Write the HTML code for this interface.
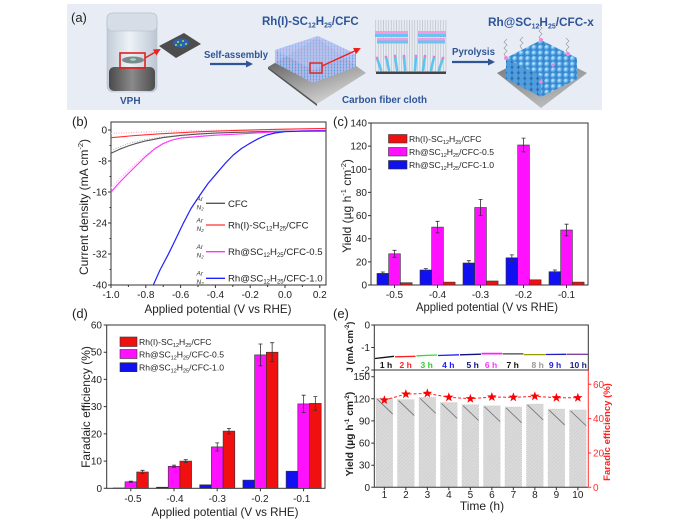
<!DOCTYPE html>
<html><head><meta charset="utf-8"><style>
html,body{margin:0;padding:0;background:#fff;}
svg{display:block;font-family:"Liberation Sans",Arial,sans-serif;}
</style></head><body>
<svg width="700" height="523" viewBox="0 0 700 523" xmlns="http://www.w3.org/2000/svg">
<defs>
<linearGradient id="vialG" x1="0" y1="0" x2="1" y2="0"><stop offset="0" stop-color="#c2ccd8"/><stop offset=".45" stop-color="#eef2f7"/><stop offset="1" stop-color="#bcc7d4"/></linearGradient>
<linearGradient id="darkG" x1="0" y1="0" x2="1" y2="0"><stop offset="0" stop-color="#4a4a4a"/><stop offset=".5" stop-color="#8a8a8a"/><stop offset="1" stop-color="#4e4e4e"/></linearGradient>
<linearGradient id="plateG" x1="0" y1="0" x2="0.5" y2="1"><stop offset="0" stop-color="#3a3a3a"/><stop offset="1" stop-color="#cfcfcf"/></linearGradient>
<linearGradient id="plate2G" x1="0" y1="0" x2="0.4" y2="1"><stop offset="0" stop-color="#6a6a6a"/><stop offset="1" stop-color="#b8b8b8"/></linearGradient>
<radialGradient id="sph" cx=".35" cy=".35" r=".7"><stop offset="0" stop-color="#d8f0ff"/><stop offset=".5" stop-color="#5ab3ee"/><stop offset="1" stop-color="#2a72c0"/></radialGradient>
<pattern id="blockPat" width="3" height="3" patternUnits="userSpaceOnUse"><rect width="3" height="3" fill="#b4bcee"/><line x1="1.5" y1="0" x2="1.5" y2="3" stroke="#8e9ae0" stroke-width=".6"/><circle cx="1.5" cy="1.5" r=".7" fill="#4aa6ea"/></pattern>
<pattern id="sphPat" width="6.4" height="5.6" patternUnits="userSpaceOnUse"><rect width="6.4" height="5.6" fill="#3f86cc"/><circle cx="3.2" cy="2.8" r="3" fill="url(#sph)"/></pattern>
<pattern id="sphPatD" width="6.4" height="5.6" patternUnits="userSpaceOnUse"><rect width="6.4" height="5.6" fill="#2f6fb0"/><circle cx="3.2" cy="2.8" r="3" fill="#4f9fe0"/></pattern>
<pattern id="fibPat" width="2.6" height="10" patternUnits="userSpaceOnUse"><line x1="1.3" y1="0" x2="1.3" y2="10" stroke="#9c9c9c" stroke-width=".5"/></pattern>
<pattern id="hatch" width="2.5" height="2.5" patternUnits="userSpaceOnUse" patternTransform="rotate(45)"><rect width="2.5" height="2.5" fill="#dadada"/><line x1="0" y1="0" x2="0" y2="2.5" stroke="#c3c3c3" stroke-width=".7"/></pattern>
<marker id="ab" markerWidth="7" markerHeight="7" refX="5" refY="3.5" orient="auto" markerUnits="userSpaceOnUse"><path d="M0,0 L7,3.5 L0,7 z" fill="#2f5597"/></marker>
<marker id="ar" markerWidth="7" markerHeight="7" refX="5" refY="3.5" orient="auto" markerUnits="userSpaceOnUse"><path d="M0,0 L7,3.5 L0,7 z" fill="#e82020"/></marker>
<path id="star" d="M0,-5 L1.176,-1.618 L4.755,-1.545 L1.902,0.618 L2.939,4.045 L0,2 L-2.939,4.045 L-1.902,0.618 L-4.755,-1.545 L-1.176,-1.618 Z" fill="#ff0000"/>
</defs>

<!-- ============ PANEL (a) ============ -->
<rect x="67" y="4" width="535" height="106" fill="#e8edf5"/>
<text x="71" y="22" font-size="13" fill="#222">(a)</text>
<rect x="107" y="13" width="50" height="79" rx="6" fill="url(#vialG)" stroke="#b5bfcb" stroke-width=".6"/>
<rect x="107" y="13" width="50" height="18" rx="5" fill="#d6dde7" stroke="#b0bac6" stroke-width=".6"/>
<rect x="109" y="67" width="46" height="24" rx="5" fill="url(#darkG)"/>
<ellipse cx="133" cy="60" rx="11" ry="3.5" fill="#7d8a8c"/>
<ellipse cx="133" cy="59.5" rx="3" ry="1.3" fill="#8fe0d0"/>
<rect x="120" y="53" width="25" height="15" fill="none" stroke="#e02020" stroke-width="1.6"/>
<line x1="145" y1="58" x2="159" y2="50" stroke="#e82020" stroke-width="1.4" marker-end="url(#ar)"/>
<polygon points="159,46 184,33 201,44 176,58" fill="#4d4d4d"/>
<ellipse cx="181" cy="43" rx="8" ry="4.6" fill="#2a62b0"/>
<circle cx="178" cy="42" r="1" fill="#9be04a"/><circle cx="183" cy="41" r="1" fill="#9be04a"/><circle cx="181" cy="45" r="1" fill="#9be04a"/><circle cx="186" cy="44" r="1" fill="#9be04a"/><circle cx="176" cy="45" r="1" fill="#9be04a"/>
<text x="204" y="58" font-size="10" font-weight="bold" fill="#2f5597" textLength="64" lengthAdjust="spacingAndGlyphs">Self-assembly</text>
<line x1="210" y1="64" x2="251" y2="64" stroke="#2f5597" stroke-width="2.2" marker-end="url(#ab)"/>
<text x="262" y="25" font-size="11.5" font-weight="bold" fill="#2f5597">Rh(I)-SC<tspan font-size="7" dy="2.5">12</tspan><tspan dy="-2.5">H</tspan><tspan font-size="7" dy="2.5">25</tspan><tspan dy="-2.5">/CFC</tspan></text>
<polygon points="268,67 317,38 366,73 317,104" fill="url(#plateG)"/>
<polygon points="268,67 317,104 317,106 268,69" fill="#555"/>
<polygon points="275,50 318,36 356,54 356,67 313,83 275,63" fill="url(#blockPat)" opacity=".9"/>
<polygon points="275,50 318,36 356,54 313,70" fill="#c5c9f2" opacity=".45"/>
<rect x="310" y="63" width="12" height="10" fill="none" stroke="#e02020" stroke-width="1.4"/>
<line x1="322" y1="66" x2="359" y2="49" stroke="#e82020" stroke-width="1.5" marker-end="url(#ar)"/>
<rect x="375" y="20" width="72" height="52" fill="url(#fibPat)" opacity=".85"/>
<rect x="375" y="31" width="33" height="3" fill="#f49ae0"/><rect x="375" y="34" width="33" height="3" fill="#66c6ee"/>
<rect x="418" y="31" width="28" height="3" fill="#f49ae0"/><rect x="418" y="34" width="28" height="3" fill="#66c6ee"/>
<rect x="377" y="38" width="31" height="2.5" fill="#f49ae0"/><rect x="377" y="40.5" width="31" height="3" fill="#66c6ee"/>
<rect x="418" y="38" width="27" height="2.5" fill="#f49ae0"/><rect x="418" y="40.5" width="27" height="3" fill="#66c6ee"/>
<g stroke="#5ec4ee" stroke-width="2.6" stroke-linecap="round">
<line x1="377" y1="58" x2="381" y2="70"/><line x1="386" y1="57" x2="389" y2="70"/><line x1="395" y1="56" x2="397" y2="70"/><line x1="404" y1="56" x2="405" y2="70"/><line x1="416" y1="56" x2="415" y2="70"/><line x1="425" y1="56" x2="423" y2="70"/><line x1="434" y1="57" x2="431" y2="70"/><line x1="443" y1="58" x2="439" y2="70"/>
</g>
<g fill="#f07ad0"><circle cx="377" cy="58" r="1.3"/><circle cx="386" cy="57" r="1.3"/><circle cx="395" cy="56" r="1.3"/><circle cx="404" cy="56" r="1.3"/><circle cx="416" cy="56" r="1.3"/><circle cx="425" cy="56" r="1.3"/><circle cx="434" cy="57" r="1.3"/><circle cx="443" cy="58" r="1.3"/></g>
<rect x="376" y="71.5" width="70" height="2.5" fill="#444"/>
<text x="342" y="103" font-size="10" font-weight="bold" fill="#2f5597" textLength="85" lengthAdjust="spacingAndGlyphs">Carbon fiber cloth</text>
<text x="452" y="55" font-size="10" font-weight="bold" fill="#2f5597" textLength="43" lengthAdjust="spacingAndGlyphs">Pyrolysis</text>
<line x1="452" y1="62" x2="493" y2="62" stroke="#2f5597" stroke-width="2.2" marker-end="url(#ab)"/>
<text x="488" y="26" font-size="11.8" font-weight="bold" fill="#2f5597">Rh@SC<tspan font-size="7" dy="2.5">12</tspan><tspan dy="-2.5">H</tspan><tspan font-size="7" dy="2.5">25</tspan><tspan dy="-2.5">/CFC-x</tspan></text>
<polygon points="497,73 541,50 587,73 541,108" fill="url(#plate2G)"/>
<polygon points="506,58 541,76 541,97 506,79" fill="url(#sphPatD)"/>
<polygon points="541,76 577,58 577,79 541,97" fill="url(#sphPat)"/>
<polygon points="541,40 506,58 541,76 577,58" fill="url(#sphPat)"/>
<g fill="none" stroke="#9a9a9a" stroke-width=".7">
<polyline points="506,57 504,54 507,51 504,48 507,45 504,42 507,39"/>
<polyline points="522,49 520,46 523,43 520,40 523,37"/>
<polyline points="541,40 539,37 542,34 539,31 542,28 539,25"/>
<polyline points="568,53 566,50 569,47 566,44 569,41 566,38"/>
</g>
<g fill="#f08ad8"><circle cx="541" cy="40" r="2"/><circle cx="506" cy="58" r="2"/><circle cx="568" cy="54" r="2"/><circle cx="541" cy="82" r="1.8"/><circle cx="553" cy="65" r="1.6"/></g>
<text x="120" y="104" font-size="10" font-weight="bold" fill="#2f5597">VPH</text>

<!-- ============ PANEL (b) ============ -->
<text x="72" y="126" font-size="13" fill="#222">(b)</text>
<rect x="111" y="122" width="215" height="163" fill="none" stroke="#333" stroke-width="1"/>
<g stroke="#333" stroke-width="1">
<path d="M108,130H111M108,161H111M108,192H111M108,223H111M108,254H111M108,285H111"/>
<path d="M109.5,145.5H111M109.5,176.5H111M109.5,207.5H111M109.5,238.5H111M109.5,269.5H111"/>
<path d="M111,285V288M145.8,285V288M180.6,285V288M215.4,285V288M250.2,285V288M285,285V288M319.8,285V288"/>
<path d="M128.4,285V287M163.2,285V287M198,285V287M232.8,285V287M267.6,285V287M302.4,285V287"/>
</g>
<g font-size="10" fill="#222" text-anchor="end">
<text x="107" y="133.5">0</text><text x="107" y="164.5">-8</text><text x="107" y="195.5">-16</text><text x="107" y="226.5">-24</text><text x="107" y="257.5">-32</text><text x="107" y="288.5">-40</text>
</g>
<g font-size="10" fill="#222" text-anchor="middle">
<text x="111" y="298">-1.0</text><text x="145.8" y="298">-0.8</text><text x="180.6" y="298">-0.6</text><text x="215.4" y="298">-0.4</text><text x="250.2" y="298">-0.2</text><text x="285" y="298">0.0</text><text x="319.8" y="298">0.2</text>
</g>
<text x="218" y="313" font-size="12" fill="#222" text-anchor="middle" textLength="147" lengthAdjust="spacingAndGlyphs">Applied potential (V vs RHE)</text>
<text transform="translate(88,207) rotate(-90)" font-size="12" fill="#222" text-anchor="middle">Current density (mA cm<tspan font-size="7.5" dy="-5">-2</tspan><tspan dy="5">)</tspan></text>
<g fill="none" stroke-linejoin="round">
<polyline stroke="#ffb0f0" stroke-width="1.2" stroke-dasharray="1,1.5" points="111,188 119.7,179 128.4,170.5 137.1,162.5 145.8,155 154.5,148.5 163.2,143 171.9,139.5 180.6,137.5 198,136 215.4,134.8"/>
<polyline stroke="#ffaad0" stroke-width="1.2" stroke-dasharray="1,1.5" points="111,133.5 140,132.2 170,131.2 200,130.5 250,129.8 300,129 326,128.6"/>
<polyline stroke="#aaaaaa" stroke-width="1" stroke-dasharray="1,1.5" points="111,150.5 128.4,143.5 145.8,139.5 163.2,136.8 198,133.6 250,131.7 326,130.5"/>
<polyline stroke="#555" stroke-width="1.1" points="111,153.3 119.7,149.2 128.4,145.9 137.1,143.2 145.8,140.9 163.2,137.6 180.6,135.4 198,134.1 215.4,133.1 250.2,131.9 285,131.2 326,130.8"/>
<polyline stroke="#ff3030" stroke-width="1.1" points="111,137.7 133,135.7 160,133.8 200,131.7 240,130.3 283,129.2 326,128.4"/>
<polyline stroke="#ff30ff" stroke-width="1.1" points="111,192 119.7,182.3 128.4,173.4 137.1,164.9 145.8,156.4 154.5,149 163.2,143.6 171.9,140.1 180.6,138.1 198,136.6 215.4,135.2 232.8,134.3 250.2,133.3 267.6,132.3 285,131.4 302.4,130.8 326,130.4"/>
<polyline stroke="#2020ff" stroke-width="1.2" points="153.3,285 160,270 168.3,254.3 176,238.5 183.3,223.3 191,208.5 200,195 208,183.5 216.7,173.3 225,163.6 233.3,155 241.5,148.5 250,143.3 258,138.8 266.7,135 275,133 285,131.7 300,131.2 326,131"/>
</g>
<g font-size="6.5" font-style="italic" fill="#333">
<text x="196.5" y="201">Ar</text><text x="196.5" y="209.5">N<tspan font-size="4.5" dy="1">2</tspan></text>
<text x="196.5" y="222.5">Ar</text><text x="196.5" y="231">N<tspan font-size="4.5" dy="1">2</tspan></text>
<text x="196.5" y="249">Ar</text><text x="196.5" y="257.5">N<tspan font-size="4.5" dy="1">2</tspan></text>
<text x="196.5" y="275.5">Ar</text><text x="196.5" y="284">N<tspan font-size="4.5" dy="1">2</tspan></text>
</g>
<g stroke-width="1.3">
<line x1="206" y1="203.3" x2="225" y2="203.3" stroke="#555"/>
<line x1="206" y1="225" x2="225" y2="225" stroke="#ff3030"/>
<line x1="206" y1="251.7" x2="225" y2="251.7" stroke="#ff30ff"/>
<line x1="206" y1="278.3" x2="225" y2="278.3" stroke="#2020ff"/>
</g>
<g font-size="9.6" fill="#222">
<text x="228" y="207">CFC</text>
<text x="228" y="228.5">Rh(I)-SC<tspan font-size="6" dy="2">12</tspan><tspan dy="-2">H</tspan><tspan font-size="6" dy="2">25</tspan><tspan dy="-2">/CFC</tspan></text>
<text x="228" y="255">Rh@SC<tspan font-size="6" dy="2">12</tspan><tspan dy="-2">H</tspan><tspan font-size="6" dy="2">25</tspan><tspan dy="-2">/CFC-0.5</tspan></text>
<text x="228" y="281.5">Rh@SC<tspan font-size="6" dy="2">12</tspan><tspan dy="-2">H</tspan><tspan font-size="6" dy="2">25</tspan><tspan dy="-2">/CFC-1.0</tspan></text>
</g>

<!-- ============ PANEL (c) ============ -->
<text x="333" y="126" font-size="13" fill="#222">(c)</text>
<rect x="371" y="123" width="217" height="162" fill="none" stroke="#333" stroke-width="1"/>
<g stroke="#333" stroke-width="1">
<path d="M368,285H371M368,261.9H371M368,238.7H371M368,215.6H371M368,192.4H371M368,169.3H371M368,146.1H371M368,123H371"/>
<path d="M394.5,285V288M437.5,285V288M480.5,285V288M523.5,285V288M566.5,285V288"/>
</g>
<g font-size="10" fill="#222" text-anchor="end">
<text x="367" y="288.5">0</text><text x="367" y="265.4">20</text><text x="367" y="242.2">40</text><text x="367" y="219.1">60</text><text x="367" y="195.9">80</text><text x="367" y="172.8">100</text><text x="367" y="149.6">120</text><text x="367" y="126.5">140</text>
</g>
<g font-size="10" fill="#222" text-anchor="middle">
<text x="394.5" y="298">-0.5</text><text x="437.5" y="298">-0.4</text><text x="480.5" y="298">-0.3</text><text x="523.5" y="298">-0.2</text><text x="566.5" y="298">-0.1</text>
</g>
<text x="487" y="311" font-size="12" fill="#222" text-anchor="middle" textLength="142" lengthAdjust="spacingAndGlyphs">Applied potential (V vs RHE)</text>
<text transform="translate(351,206) rotate(-90)" font-size="12" fill="#222" text-anchor="middle">Yield (µg h<tspan font-size="7.5" dy="-5">-1</tspan><tspan dy="5"> cm</tspan><tspan font-size="7.5" dy="-5">-2</tspan><tspan dy="5">)</tspan></text>
<g stroke="#333" stroke-width=".6">
<rect x="377" y="273.4" width="11.7" height="11.6" fill="#1010f0"/>
<rect x="388.7" y="253.8" width="11.7" height="31.2" fill="#ff10ff"/>
<rect x="400.4" y="282.7" width="11.7" height="2.3" fill="#f01010"/>
<rect x="420" y="270" width="11.7" height="15" fill="#1010f0"/>
<rect x="431.7" y="227.1" width="11.7" height="57.9" fill="#ff10ff"/>
<rect x="443.4" y="282.1" width="11.7" height="2.9" fill="#f01010"/>
<rect x="463" y="263" width="11.7" height="22" fill="#1010f0"/>
<rect x="474.7" y="207.5" width="11.7" height="77.5" fill="#ff10ff"/>
<rect x="486.4" y="281" width="11.7" height="4" fill="#f01010"/>
<rect x="506" y="257.8" width="11.7" height="27.2" fill="#1010f0"/>
<rect x="517.7" y="145" width="11.7" height="140" fill="#ff10ff"/>
<rect x="529.4" y="279.8" width="11.7" height="5.2" fill="#f01010"/>
<rect x="549" y="271.7" width="11.7" height="13.3" fill="#1010f0"/>
<rect x="560.7" y="230" width="11.7" height="55" fill="#ff10ff"/>
<rect x="572.4" y="282.1" width="11.7" height="2.9" fill="#f01010"/>
</g>
<g stroke="#333" stroke-width=".8" fill="none">
<path d="M382.85,274.8V272M380.85,274.8h4M380.85,272h4"/>
<path d="M425.85,271.4V268.6M423.85,271.4h4M423.85,268.6h4"/>
<path d="M468.85,265.3V260.7M466.85,265.3h4M466.85,260.7h4"/>
<path d="M511.85,260.7V254.9M509.85,260.7h4M509.85,254.9h4"/>
<path d="M554.85,273.4V270M552.85,273.4h4M552.85,270h4"/>
<path d="M394.55,257.3V250.3M392.55,257.3h4M392.55,250.3h4"/>
<path d="M437.55,232.9V221.3M435.55,232.9h4M435.55,221.3h4"/>
<path d="M480.55,215.6V199.4M478.55,215.6h4M478.55,199.4h4"/>
<path d="M523.55,151.9V138.1M521.55,151.9h4M521.55,138.1h4"/>
<path d="M566.55,235.8V224.2M564.55,235.8h4M564.55,224.2h4"/>
</g>
<g stroke="#333" stroke-width=".6">
<rect x="388.5" y="134.5" width="18.5" height="8.5" fill="#f01010"/>
<rect x="388.5" y="147.5" width="18.5" height="8.5" fill="#ff10ff"/>
<rect x="388.5" y="160.5" width="18.5" height="8.5" fill="#1010f0"/>
</g>
<g font-size="8.6" fill="#222">
<text x="409" y="142">Rh(I)-SC<tspan font-size="5.5" dy="2">12</tspan><tspan dy="-2">H</tspan><tspan font-size="5.5" dy="2">25</tspan><tspan dy="-2">/CFC</tspan></text>
<text x="409" y="155">Rh@SC<tspan font-size="5.5" dy="2">12</tspan><tspan dy="-2">H</tspan><tspan font-size="5.5" dy="2">25</tspan><tspan dy="-2">/CFC-0.5</tspan></text>
<text x="409" y="168">Rh@SC<tspan font-size="5.5" dy="2">12</tspan><tspan dy="-2">H</tspan><tspan font-size="5.5" dy="2">25</tspan><tspan dy="-2">/CFC-1.0</tspan></text>
</g>

<!-- ============ PANEL (d) ============ -->
<text x="72" y="318" font-size="13" fill="#222">(d)</text>
<rect x="106.7" y="325" width="218.3" height="163.3" fill="none" stroke="#333" stroke-width="1"/>
<g stroke="#333" stroke-width="1">
<path d="M103.7,488.3H106.7M103.7,461.1H106.7M103.7,433.9H106.7M103.7,406.6H106.7M103.7,379.4H106.7M103.7,352.2H106.7M103.7,325H106.7"/>
<path d="M130.8,488.3V491.3M174,488.3V491.3M217.2,488.3V491.3M260.4,488.3V491.3M303.6,488.3V491.3"/>
</g>
<g font-size="10" fill="#222" text-anchor="end">
<text x="102" y="491.8">0</text><text x="102" y="464.6">10</text><text x="102" y="437.4">20</text><text x="102" y="410.1">30</text><text x="102" y="382.9">40</text><text x="102" y="355.7">50</text><text x="102" y="328.5">60</text>
</g>
<g font-size="10" fill="#222" text-anchor="middle">
<text x="133" y="502">-0.5</text><text x="175" y="502">-0.4</text><text x="217.3" y="502">-0.3</text><text x="260" y="502">-0.2</text><text x="301.7" y="502">-0.1</text>
</g>
<text x="225" y="516" font-size="12" fill="#222" text-anchor="middle" textLength="147" lengthAdjust="spacingAndGlyphs">Applied potential (V vs RHE)</text>
<text transform="translate(90,407) rotate(-90)" font-size="12" fill="#222" text-anchor="middle">Faradaic efficiency (%)</text>
<g stroke="#333" stroke-width=".6">
<rect x="113.3" y="488" width="11.7" height=".3" fill="#1010f0"/>
<rect x="125" y="481.8" width="11.7" height="6.5" fill="#ff10ff"/>
<rect x="136.7" y="472" width="11.7" height="16.3" fill="#f01010"/>
<rect x="156.5" y="487.2" width="11.7" height="1.1" fill="#1010f0"/>
<rect x="168.2" y="466.3" width="11.7" height="22" fill="#ff10ff"/>
<rect x="179.9" y="461.1" width="11.7" height="27.2" fill="#f01010"/>
<rect x="199.7" y="484.8" width="11.7" height="3.5" fill="#1010f0"/>
<rect x="211.4" y="446.9" width="11.7" height="41.4" fill="#ff10ff"/>
<rect x="223.1" y="431.1" width="11.7" height="57.2" fill="#f01010"/>
<rect x="242.9" y="480.1" width="11.7" height="8.2" fill="#1010f0"/>
<rect x="254.6" y="354.9" width="11.7" height="133.4" fill="#ff10ff"/>
<rect x="266.3" y="352.2" width="11.7" height="136.1" fill="#f01010"/>
<rect x="286.1" y="471.2" width="11.7" height="17.1" fill="#1010f0"/>
<rect x="297.8" y="403.9" width="11.7" height="84.4" fill="#ff10ff"/>
<rect x="309.5" y="403.4" width="11.7" height="84.9" fill="#f01010"/>
</g>
<g stroke="#333" stroke-width=".8" fill="none">
<path d="M130.85,482.3V481.2M128.85,482.3h4M128.85,481.2h4"/>
<path d="M174.05,467.3V465.2M172.05,467.3h4M172.05,465.2h4"/>
<path d="M217.25,451V442.9M215.25,451h4M215.25,442.9h4"/>
<path d="M260.45,365.8V344M258.45,365.8h4M258.45,344h4"/>
<path d="M303.65,412.6V395.2M301.65,412.6h4M301.65,395.2h4"/>
<path d="M142.55,473.6V470.3M140.55,473.6h4M140.55,470.3h4"/>
<path d="M185.75,462.5V459.7M183.75,462.5h4M183.75,459.7h4"/>
<path d="M228.95,433.8V428.4M226.95,433.8h4M226.95,428.4h4"/>
<path d="M272.15,361.7V342.7M270.15,361.7h4M270.15,342.7h4"/>
<path d="M315.35,410.2V396.6M313.35,410.2h4M313.35,396.6h4"/>
</g>
<g stroke="#333" stroke-width=".6">
<rect x="120" y="337" width="17" height="9.5" fill="#f01010"/>
<rect x="120" y="349.5" width="17" height="9" fill="#ff10ff"/>
<rect x="120" y="362.7" width="17" height="9" fill="#1010f0"/>
</g>
<g font-size="8.6" fill="#222">
<text x="139" y="345">Rh(I)-SC<tspan font-size="5.5" dy="2">12</tspan><tspan dy="-2">H</tspan><tspan font-size="5.5" dy="2">25</tspan><tspan dy="-2">/CFC</tspan></text>
<text x="139" y="357.5">Rh@SC<tspan font-size="5.5" dy="2">12</tspan><tspan dy="-2">H</tspan><tspan font-size="5.5" dy="2">25</tspan><tspan dy="-2">/CFC-0.5</tspan></text>
<text x="139" y="370.5">Rh@SC<tspan font-size="5.5" dy="2">12</tspan><tspan dy="-2">H</tspan><tspan font-size="5.5" dy="2">25</tspan><tspan dy="-2">/CFC-1.0</tspan></text>
</g>

<!-- ============ PANEL (e) ============ -->
<text x="333" y="318" font-size="13" fill="#222">(e)</text>
<g stroke="#c8c8c8" stroke-width=".6" stroke-dasharray="1,1" fill="url(#hatch)">
<rect x="376" y="398.1" width="16.7" height="89.2"/>
<rect x="397.5" y="399.6" width="16.7" height="87.7"/>
<rect x="419" y="397.4" width="16.7" height="89.9"/>
<rect x="440.5" y="402.5" width="16.7" height="84.8"/>
<rect x="462" y="404.7" width="16.7" height="82.6"/>
<rect x="483.5" y="405.8" width="16.7" height="81.5"/>
<rect x="505" y="406.9" width="16.7" height="80.4"/>
<rect x="526.5" y="404" width="16.7" height="83.3"/>
<rect x="548" y="409.1" width="16.7" height="78.2"/>
<rect x="569.5" y="409.9" width="16.7" height="77.4"/>
</g>
<g stroke="#7a7a7a" stroke-width=".9">
<line x1="377" y1="399" x2="392.7" y2="414"/>
<line x1="398.5" y1="400.5" x2="414.2" y2="415.5"/>
<line x1="420" y1="398.3" x2="435.7" y2="413.3"/>
<line x1="441.5" y1="403.4" x2="457.2" y2="418.4"/>
<line x1="463" y1="405.6" x2="478.7" y2="420.6"/>
<line x1="484.5" y1="406.7" x2="500.2" y2="421.7"/>
<line x1="506" y1="407.8" x2="521.7" y2="422.8"/>
<line x1="527.5" y1="404.9" x2="543.2" y2="419.9"/>
<line x1="549" y1="410" x2="564.7" y2="425"/>
<line x1="570.5" y1="410.8" x2="586.2" y2="425.8"/>
</g>
<rect x="374.3" y="325" width="214" height="45" fill="none" stroke="#333" stroke-width="1"/>
<line x1="374.3" y1="370" x2="374.3" y2="487.3" stroke="#333" stroke-width="1"/>
<line x1="374.3" y1="487.3" x2="588.3" y2="487.3" stroke="#333" stroke-width="1"/>
<line x1="588.3" y1="370" x2="588.3" y2="487.3" stroke="#ff3030" stroke-width="1"/>
<g stroke="#333" stroke-width="1">
<path d="M371.3,325H374.3M371.3,347.5H374.3M371.3,370H374.3"/>
<path d="M371.3,487.3H374.3M371.3,465.2H374.3M371.3,443.1H374.3M371.3,420.9H374.3M371.3,398.8H374.3M371.3,376.7H374.3"/>
<path d="M384.35,487.3V490.3M405.85,487.3V490.3M427.35,487.3V490.3M448.85,487.3V490.3M470.35,487.3V490.3M491.85,487.3V490.3M513.35,487.3V490.3M534.85,487.3V490.3M556.35,487.3V490.3M577.85,487.3V490.3"/>
</g>
<g stroke="#ff3030" stroke-width="1"><path d="M588.3,487.3H591.3M588.3,453H591.3M588.3,418.6H591.3M588.3,384.3H591.3"/></g>
<g font-size="10" fill="#222" text-anchor="end">
<text x="370" y="328.5">0</text><text x="370" y="351">-1</text><text x="370" y="373.5">-2</text>
<text x="370" y="490.8">0</text><text x="370" y="468.7">30</text><text x="370" y="446.6">60</text><text x="370" y="424.4">90</text><text x="370" y="402.3">120</text><text x="370" y="380.2">150</text>
</g>
<g font-size="10" fill="#ff3030">
<text x="593" y="490.8">0</text><text x="593" y="456.5">20</text><text x="593" y="422.1">40</text><text x="593" y="387.8">60</text>
</g>
<g font-size="10" fill="#222" text-anchor="middle">
<text x="384.35" y="498">1</text><text x="405.85" y="498">2</text><text x="427.35" y="498">3</text><text x="448.85" y="498">4</text><text x="470.35" y="498">5</text><text x="491.85" y="498">6</text><text x="513.35" y="498">7</text><text x="534.85" y="498">8</text><text x="556.35" y="498">9</text><text x="577.85" y="498">10</text>
</g>
<text x="482" y="510" font-size="12" fill="#222" text-anchor="middle">Time (h)</text>
<text transform="translate(353,347) rotate(-90)" font-size="9.5" font-weight="bold" fill="#222" text-anchor="middle">J (mA cm<tspan font-size="6" dy="-4">-2</tspan><tspan dy="4">)</tspan></text>
<text transform="translate(353,434) rotate(-90)" font-size="10.3" font-weight="bold" fill="#222" text-anchor="middle">Yield (µg h<tspan font-size="6.5" dy="-4">-1</tspan><tspan dy="4"> cm</tspan><tspan font-size="6.5" dy="-4">-2</tspan><tspan dy="4">)</tspan></text>
<text transform="translate(610,432) rotate(-90)" font-size="9.5" font-weight="bold" fill="#ff2020" text-anchor="middle">Faradic efficiency (%)</text>
<g stroke-width="1.3" fill="none">
<line x1="375" y1="358.5" x2="394" y2="356.3" stroke="#111"/>
<line x1="395" y1="356.8" x2="415.5" y2="356.3" stroke="#ff2020"/>
<line x1="416.5" y1="355.8" x2="437" y2="355" stroke="#33dd33"/>
<line x1="438" y1="355.5" x2="459" y2="354.8" stroke="#2020ff"/>
<line x1="460" y1="354.8" x2="481" y2="354.2" stroke="#101080"/>
<line x1="481.5" y1="353.6" x2="502" y2="353.6" stroke="#ff20ff" stroke-width="1.8"/>
<line x1="502.5" y1="353.9" x2="523.5" y2="353.9" stroke="#444"/>
<line x1="524" y1="354.6" x2="545" y2="354.6" stroke="#999900"/>
<line x1="545.5" y1="354.5" x2="566.5" y2="354.3" stroke="#2020c0"/>
<line x1="567" y1="354.3" x2="588" y2="354.3" stroke="#8040a0"/>
</g>
<g font-size="8.5" font-weight="bold" text-anchor="middle">
<text x="386" y="368" fill="#111">1 h</text>
<text x="405.7" y="368" fill="#ff2020">2 h</text>
<text x="426.7" y="368" fill="#33cc33">3 h</text>
<text x="448.3" y="368" fill="#2020ff">4 h</text>
<text x="472.7" y="368" fill="#101080">5 h</text>
<text x="491" y="368" fill="#ff30ff">6 h</text>
<text x="512.7" y="368" fill="#111">7 h</text>
<text x="537.7" y="368" fill="#999">8 h</text>
<text x="555" y="368" fill="#2020d0">9 h</text>
<text x="578.3" y="368" fill="#202080">10 h</text>
</g>
<polyline fill="none" stroke="#ff2020" stroke-width="1" stroke-dasharray="3,2" points="384.35,400.1 405.85,394.1 427.35,393.4 448.85,397.3 470.35,398.7 491.85,397 513.35,397.3 534.85,396.3 556.35,397.7 577.85,397.7"/>
<use href="#star" x="384.35" y="400.1"/>
<use href="#star" x="405.85" y="394.1"/>
<use href="#star" x="427.35" y="393.4"/>
<use href="#star" x="448.85" y="397.3"/>
<use href="#star" x="470.35" y="398.7"/>
<use href="#star" x="491.85" y="397"/>
<use href="#star" x="513.35" y="397.3"/>
<use href="#star" x="534.85" y="396.3"/>
<use href="#star" x="556.35" y="397.7"/>
<use href="#star" x="577.85" y="397.7"/>
</svg>
</body></html>
